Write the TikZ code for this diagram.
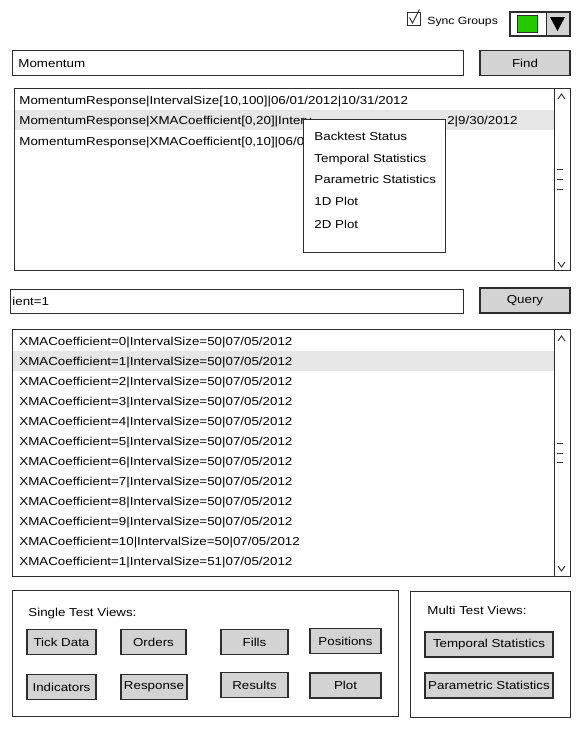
\documentclass[tikz,border=0pt]{standalone}
\usepackage{fontspec}
\setmainfont{Liberation Sans}[FakeStretch=1.16]
\usepackage{tikz}
\usepackage{xcolor}
\definecolor{btngray}{RGB}{211,211,211}
\definecolor{selgray}{RGB}{230,230,230}
\definecolor{pickgreen}{RGB}{40,200,0}
\definecolor{edge}{RGB}{45,45,45}

\begin{document}
\begin{tikzpicture}[x=1pt,y=1pt,line width=0.9pt]
		\tikzstyle{every node}+=[inner sep=0pt,font=\fontsize{11.5}{13}\selectfont]
		\tikzstyle{btn}=[draw=edge,line width=1.4pt,fill=btngray,minimum height=25pt]
		\tikzstyle{row}=[anchor=base west]
		\useasboundingbox (0,0) rectangle (580,-729);
		\fill [white] (0,0) rectangle (580,-729);
		% sync groups and colour picker
		\draw [edge] (407,-12) rectangle (420,-25);
		\draw [edge] (409.5,-17.5) -- (412.5,-23) -- (419.5,-9.5);
		\node [row,font=\fontsize{10.5}{13}\selectfont] (sync) at (427,-24) {Sync Groups};
		\draw [edge,fill=white] (510,-12) rectangle (570,-36);
		\fill [btngray] (546,-12) rectangle (570,-36);
		\draw [edge,line width=1.3pt] (510,-12) rectangle (570,-36);
		\draw [edge] (546,-12) -- (546,-36);
		\draw [edge,fill=pickgreen] (517,-15) rectangle (537,-32);
		\fill [black] (550,-17) -- (565,-17) -- (557.5,-31) -- cycle;
		% search
		\draw [edge] (12,-50) rectangle (463,-75);
		\node [row] (search) at (18,-67) {Momentum};
		\node [btn,minimum width=90pt] (find) at (525,-63) {Find};
		% top list
		\draw [edge] (14,-88) rectangle (570,-270);
		\fill [selgray] (15,-110) rectangle (554,-130);
		\draw [edge] (554,-88) -- (554,-270);
		\draw [edge] (558,-99) -- (561.5,-94) -- (565,-99);
		\draw [edge] (558,-262) -- (561.5,-267) -- (565,-262);
		\draw [edge] (557,-169) -- (563,-169);
		\draw [edge] (557,-179) -- (563,-179);
		\draw [edge] (557,-189) -- (563,-189);
		\node [row] (run1) at (19,-104.5) {MomentumResponse|IntervalSize[10,100]|06/01/2012|10/31/2012};
		\node [row] (run2) at (19,-124.5) {MomentumResponse|XMACoefficient[0,20]|Interv};
		\node [anchor=base east] (run2end) at (518,-124.5) {2|9/30/2012};
		\node [row] (run3) at (19,-145.5) {MomentumResponse|XMACoefficient[0,10]|06/01/};
		% context menu
		\draw [edge,fill=white] (303,-119) rectangle (445,-252);
		\node [row] (backtest) at (314,-140.5) {Backtest Status};
		\node [row] (temporal) at (314,-162.5) {Temporal Statistics};
		\node [row] (parametric) at (314,-183.5) {Parametric Statistics};
		\node [row] (plota) at (314,-205.5) {1D Plot};
		\node [row] (plotb) at (314,-228.5) {2D Plot};
		% query
		\draw [edge] (10,-289) rectangle (463,-313);
		\node [row] (query) at (12,-305.5) {ient=1};
		\node [btn,minimum width=90pt] (querybtn) at (525,-300.5) {Query};
		% result list
		\draw [edge] (12,-329) rectangle (570,-576);
		\fill [selgray] (13,-351) rectangle (554,-371);
		\draw [edge] (554,-329) -- (554,-576);
		\draw [edge] (558,-341) -- (561.5,-336) -- (565,-341);
		\draw [edge] (558,-566) -- (561.5,-571) -- (565,-566);
		\draw [edge] (557,-443) -- (563,-443);
		\draw [edge] (557,-453) -- (563,-453);
		\draw [edge] (557,-462) -- (563,-462);
		\node [row] (res0) at (19,-345.5) {XMACoefficient=0|IntervalSize=50|07/05/2012};
		\node [row] (res1) at (19,-365.5) {XMACoefficient=1|IntervalSize=50|07/05/2012};
		\node [row] (res2) at (19,-385.5) {XMACoefficient=2|IntervalSize=50|07/05/2012};
		\node [row] (res3) at (19,-405.5) {XMACoefficient=3|IntervalSize=50|07/05/2012};
		\node [row] (res4) at (19,-425.5) {XMACoefficient=4|IntervalSize=50|07/05/2012};
		\node [row] (res5) at (19,-445.5) {XMACoefficient=5|IntervalSize=50|07/05/2012};
		\node [row] (res6) at (19,-465.5) {XMACoefficient=6|IntervalSize=50|07/05/2012};
		\node [row] (res7) at (19,-485.5) {XMACoefficient=7|IntervalSize=50|07/05/2012};
		\node [row] (res8) at (19,-505.5) {XMACoefficient=8|IntervalSize=50|07/05/2012};
		\node [row] (res9) at (19,-525.5) {XMACoefficient=9|IntervalSize=50|07/05/2012};
		\node [row] (res10) at (19,-545.5) {XMACoefficient=10|IntervalSize=50|07/05/2012};
		\node [row] (res11) at (19,-565.5) {XMACoefficient=1|IntervalSize=51|07/05/2012};
		% single test views
		\draw [edge] (12,-590) rectangle (398,-716);
		\node [row] (single) at (28,-616.5) {Single Test Views:};
		\node [btn,minimum width=69pt] (tick) at (61.5,-642) {Tick Data};
		\node [btn,minimum width=65pt] (orders) at (153.5,-642) {Orders};
		\node [btn,minimum width=67pt] (fills) at (254.5,-642) {Fills};
		\node [btn,minimum width=71pt] (positions) at (345.5,-641) {Positions};
		\node [btn,minimum width=69pt] (indicators) at (61.5,-687) {Indicators};
		\node [btn,minimum width=66pt] (response) at (154,-687) {Response};
		\node [btn,minimum width=67pt] (results) at (254.5,-685) {Results};
		\node [btn,minimum width=71pt] (plot) at (345.5,-685.5) {Plot};
		% multi test views
		\draw [edge] (410,-591) rectangle (570,-717);
		\node [row] (multi) at (427,-614.5) {Multi Test Views:};
		\node [btn,minimum width=128pt] (tempstat) at (489,-644.5) {Temporal Statistics};
		\node [btn,minimum width=128pt] (paramstat) at (489,-685.5) {Parametric Statistics};
\end{tikzpicture}
\end{document}
